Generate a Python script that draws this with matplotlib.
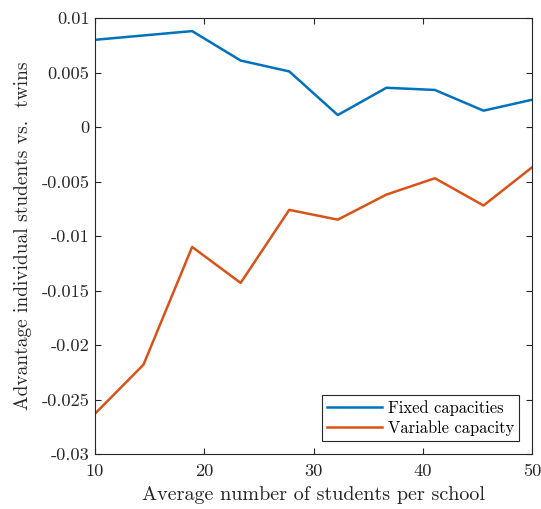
import numpy as np
from matplotlib import pyplot as plt

# average number of students per school
students = [10, 14.44, 18.89, 23.33, 27.78, 32.22, 36.67, 41.11, 45.56, 50]
# advantage of individual students over twins
fixed_cap = [0.0080, 0.0084, 0.0088, 0.0061, 0.0051, 0.0011, 0.0036, 0.0034, 0.0015, 0.0025]
variable_cap = [-0.0263, -0.0218, -0.0110, -0.0143, -0.0076, -0.0085, -0.0062, -0.0047, -0.0072, -0.0037]

y_ticks = [0.01, 0.005, 0, -0.005, -0.01, -0.015, -0.02, -0.025, -0.03]
y_tick_labels = ['0.01', '0.005', '0', '-0.005', '-0.01', '-0.015', '-0.02', '-0.025', '-0.03']
x_ticks = [10, 20, 30, 40, 50]

plt.rcParams['font.family'] = ['cmr10', 'DejaVu Serif']
plt.rcParams['axes.unicode_minus'] = False

fig = plt.figure(figsize=(5.41, 5.09), dpi=100)
ax = fig.add_axes([0.1756, 0.108, 0.8078, 0.8566])

ax.plot(students, fixed_cap, color='#0072BD', lw=1.8, label='Fixed capacities')
ax.plot(students, variable_cap, color='#D95319', lw=1.8, label='Variable capacity')

ax.set_xlim(10, 50)
ax.set_ylim(-0.03, 0.01)
ax.set_xticks(x_ticks)
ax.set_xticklabels([str(t) for t in x_ticks])
ax.set_yticks(y_ticks)
ax.set_yticklabels(y_tick_labels)

for s in ax.spines.values():
    s.set_color('#262626')
    s.set_linewidth(0.8)
ax.tick_params(direction='in', top=True, right=True, length=4.5, width=0.8,
               colors='#262626', labelsize=13.2)
ax.tick_params(axis='x', pad=7)
ax.tick_params(axis='y', pad=4)

ax.set_xlabel('Average number of students per school', fontsize=14.5, color='#262626', labelpad=5)
ax.set_ylabel('Advantage individual students vs.  twins', fontsize=14, color='#262626', labelpad=7)

leg = ax.legend(loc='lower right', fontsize=11.9, fancybox=False, framealpha=1,
                edgecolor='#262626', borderaxespad=0.8, handlelength=3.3,
                borderpad=0.3, labelspacing=0.25, handletextpad=0.35)
leg.get_frame().set_linewidth(0.8)

fig.savefig('out.png', dpi=100)
